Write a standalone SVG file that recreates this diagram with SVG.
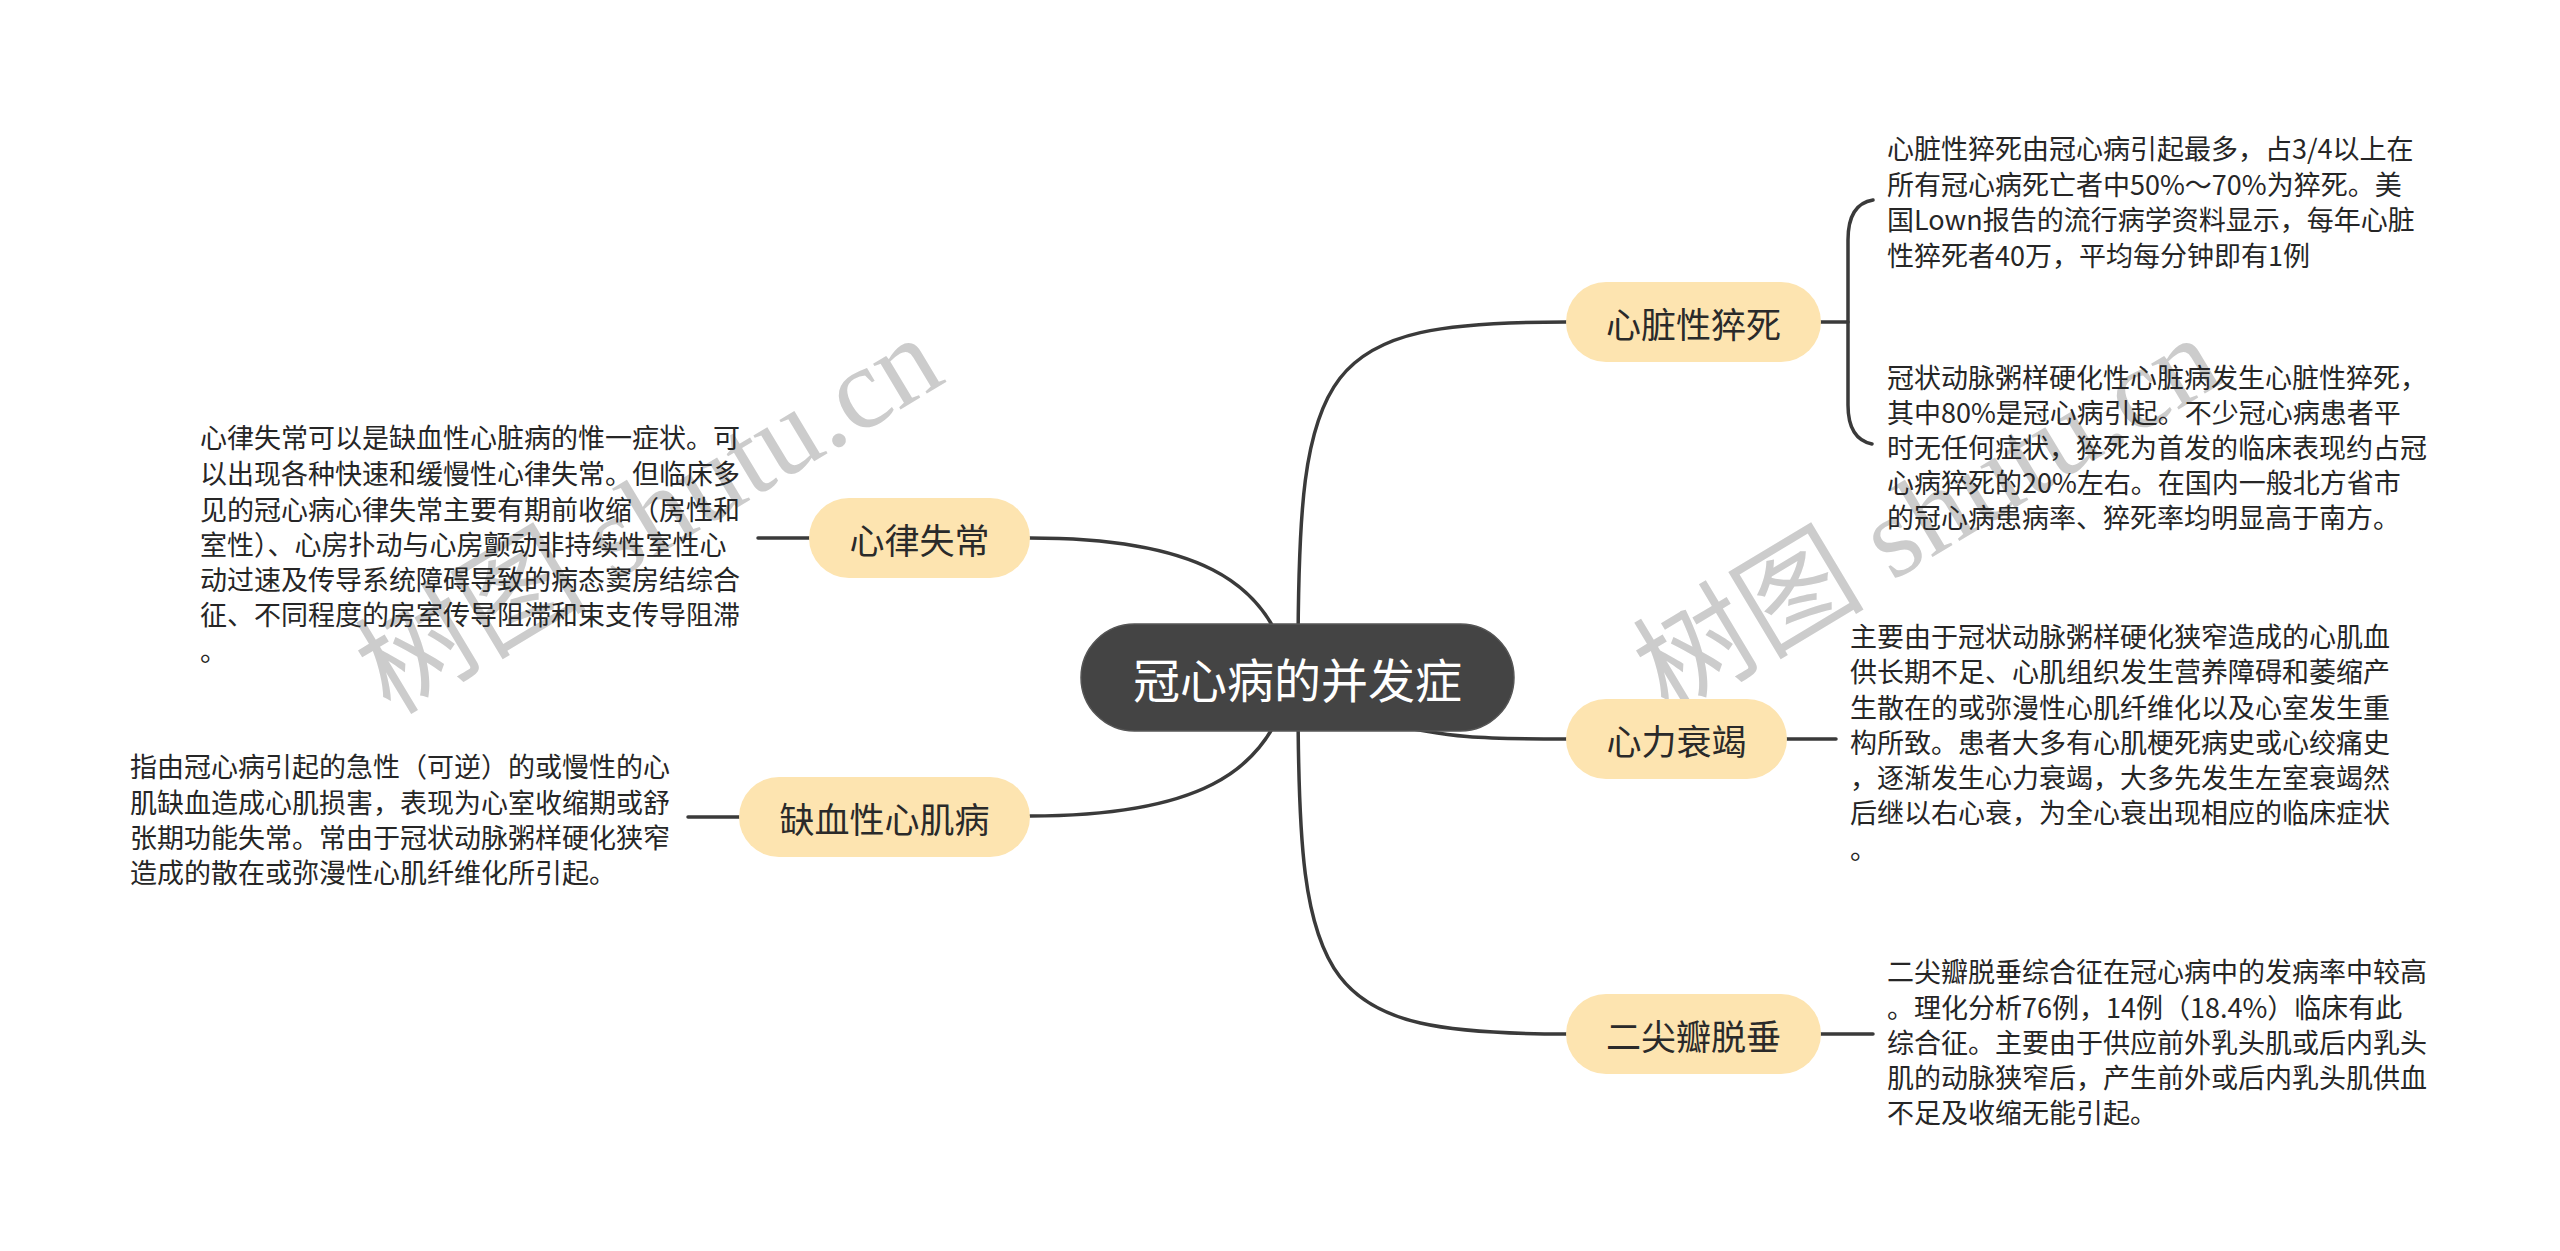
<svg xmlns="http://www.w3.org/2000/svg" width="2560" height="1251" viewBox="0 0 2560 1251">
<style>
.bg{fill:#ffffff}
.wm{fill:#cccccc;font-family:"Liberation Serif","Noto Sans CJK SC",serif;font-size:116px;dominant-baseline:central;text-anchor:middle}
.conn{fill:none;stroke:#3a3a3a;stroke-width:3.5;stroke-linecap:round}
.root rect{fill:#444444;stroke:#555555;stroke-width:1.5}
.root text{fill:#ffffff;font-family:"Noto Sans CJK SC","Noto Sans",sans-serif;font-size:47px;dominant-baseline:central;text-anchor:middle}
.br rect{fill:#fde4b0}
.br text{fill:#2a2a2a;font-family:"Noto Sans CJK SC","Noto Sans",sans-serif;font-size:35px;dominant-baseline:central;text-anchor:middle}
.det{fill:#262626;font-family:"Noto Sans CJK SC","Noto Sans",sans-serif;font-size:27px;dominant-baseline:central}
</style>
<rect class="bg" x="0" y="0" width="2560" height="1251"/>
<g id="watermarks">
<text class="wm" transform="translate(649 515) rotate(-31)">树图 shutu.cn</text>
<text class="wm" transform="translate(1927 515) rotate(-31)">树图 shutu.cn</text>
</g>
<g id="connectors">
<path class="conn" d="M1298 660 C1298 360 1320 322 1566 322"/>
<path class="conn" d="M1380 722 C1450 738 1480 739 1566 739"/>
<path class="conn" d="M1298 694 C1298 994 1320 1034 1566 1034"/>
<path class="conn" d="M1285 654 C1262 584 1200 538 1030 538"/>
<path class="conn" d="M1285 700 C1262 770 1200 816 1030 816"/>
<path class="conn" d="M1821 322 L1848 322"/>
<path class="conn" d="M1873 200 Q1848 204 1848 240 L1848 405 Q1848 439 1872 444"/>
<path class="conn" d="M1787 739 L1836 739"/>
<path class="conn" d="M1821 1034 L1873 1034"/>
<path class="conn" d="M758 538 L809 538"/>
<path class="conn" d="M688 817 L739 817"/>
</g>
<g id="root" class="root">
<rect x="1081" y="624" width="433" height="107" rx="53.5"/>
<text x="1297.5" y="677.5">冠心病的并发症</text>
</g>
<g id="node-xzxcs" class="br">
<rect x="1566" y="282" width="255" height="80" rx="40"/>
<text x="1693.5" y="322">心脏性猝死</text>
</g>
<g id="node-xlsj" class="br">
<rect x="1566" y="699" width="221" height="80" rx="40"/>
<text x="1676.5" y="739">心力衰竭</text>
</g>
<g id="node-ejbtc" class="br">
<rect x="1566" y="994" width="255" height="80" rx="40"/>
<text x="1693.5" y="1034">二尖瓣脱垂</text>
</g>
<g id="node-xlsc" class="br">
<rect x="809" y="498" width="221" height="80" rx="40"/>
<text x="919.5" y="538">心律失常</text>
</g>
<g id="node-qxxxjb" class="br">
<rect x="739" y="777" width="291" height="80" rx="40"/>
<text x="884.5" y="817">缺血性心肌病</text>
</g>
<g id="detail-xzxcs-1">
<text class="det"><tspan x="1887" y="147">心脏性猝死由冠心病引起最多，占3/4以上在</tspan><tspan x="1887" y="183">所有冠心病死亡者中50%～70%为猝死。美</tspan><tspan x="1887" y="218">国Lown报告的流行病学资料显示，每年心脏</tspan><tspan x="1887" y="254">性猝死者40万，平均每分钟即有1例</tspan></text>
</g>
<g id="detail-xzxcs-2">
<text class="det"><tspan x="1887" y="376">冠状动脉粥样硬化性心脏病发生心脏性猝死，</tspan><tspan x="1887" y="411">其中80%是冠心病引起。不少冠心病患者平</tspan><tspan x="1887" y="446">时无任何症状，猝死为首发的临床表现约占冠</tspan><tspan x="1887" y="481">心病猝死的20%左右。在国内一般北方省市</tspan><tspan x="1887" y="516">的冠心病患病率、猝死率均明显高于南方。</tspan></text>
</g>
<g id="detail-xlsj">
<text class="det"><tspan x="1850" y="635">主要由于冠状动脉粥样硬化狭窄造成的心肌血</tspan><tspan x="1850" y="670">供长期不足、心肌组织发生营养障碍和萎缩产</tspan><tspan x="1850" y="706">生散在的或弥漫性心肌纤维化以及心室发生重</tspan><tspan x="1850" y="741">构所致。患者大多有心肌梗死病史或心绞痛史</tspan><tspan x="1850" y="776">，逐渐发生心力衰竭，大多先发生左室衰竭然</tspan><tspan x="1850" y="811">后继以右心衰，为全心衰出现相应的临床症状</tspan><tspan x="1850" y="847">。</tspan></text>
</g>
<g id="detail-ejbtc">
<text class="det"><tspan x="1887" y="970">二尖瓣脱垂综合征在冠心病中的发病率中较高</tspan><tspan x="1887" y="1006">。理化分析76例，14例（18.4%）临床有此</tspan><tspan x="1887" y="1041">综合征。主要由于供应前外乳头肌或后内乳头</tspan><tspan x="1887" y="1076">肌的动脉狭窄后，产生前外或后内乳头肌供血</tspan><tspan x="1887" y="1111">不足及收缩无能引起。</tspan></text>
</g>
<g id="detail-xlsc">
<text class="det"><tspan x="200" y="436">心律失常可以是缺血性心脏病的惟一症状。可</tspan><tspan x="200" y="472">以出现各种快速和缓慢性心律失常。但临床多</tspan><tspan x="200" y="508">见的冠心病心律失常主要有期前收缩（房性和</tspan><tspan x="200" y="543">室性）、心房扑动与心房颤动非持续性室性心</tspan><tspan x="200" y="578">动过速及传导系统障碍导致的病态窦房结综合</tspan><tspan x="200" y="613">征、不同程度的房室传导阻滞和束支传导阻滞</tspan><tspan x="200" y="649">。</tspan></text>
</g>
<g id="detail-qxxxjb">
<text class="det"><tspan x="130" y="765">指由冠心病引起的急性（可逆）的或慢性的心</tspan><tspan x="130" y="801">肌缺血造成心肌损害，表现为心室收缩期或舒</tspan><tspan x="130" y="836">张期功能失常。常由于冠状动脉粥样硬化狭窄</tspan><tspan x="130" y="871">造成的散在或弥漫性心肌纤维化所引起。</tspan></text>
</g>
</svg>
